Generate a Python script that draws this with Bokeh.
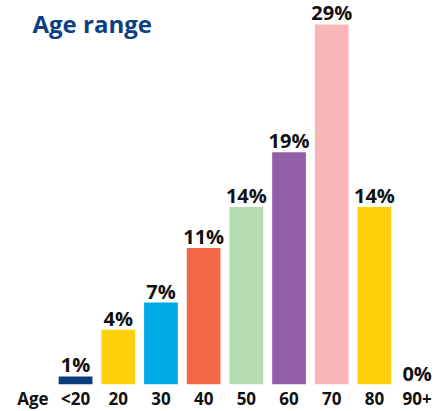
from bokeh.plotting import figure
from bokeh.models import FactorRange, Range1d, ColumnDataSource, Label, LabelSet
from bokeh.core.properties import value
from bokeh.embed import file_html
from bokeh.resources import INLINE

axis_label = "Age"
categories = ["<20", "20", "30", "40", "50", "60", "70", "80", "90+"]
values = [0.65, 4.4, 6.6, 11.0, 14.3, 18.7, 29.0, 14.3, 0.0]
labels = ["1%", "4%", "7%", "11%", "14%", "19%", "29%", "14%", "0%"]
colors = ["#0b3d7e", "#fdd10a", "#00aae4", "#f26849", "#b5dcb0",
          "#9360a8", "#f8b6b8", "#fdd10a", "#ffffff"]
title_text = "Age range"

src = ColumnDataSource(dict(cat=categories, val=values, lab=labels, col=colors))

p = figure(frame_width=427, frame_height=384, output_backend="svg", toolbar_location=None,
           x_range=FactorRange(factors=[axis_label] + categories, range_padding=0),
           y_range=Range1d(0, 30.93),
           min_border_left=11, min_border_right=0, min_border_top=0, min_border_bottom=0)

p.vbar(x="cat", top="val", width=0.79, color="col", source=src, line_width=0)
p.add_layout(LabelSet(x="cat", y="val", text="lab", source=src, text_align="center",
                      text_baseline="bottom", y_offset=-2, text_font=value("Open Sans"),
                      text_font_style="bold", text_font_size="20px",
                      text_color="#111111"))

p.add_layout(Label(x=21, y=361, x_units="screen", y_units="screen",
                   text=title_text, text_font="Open Sans", text_font_style="bold",
                   text_baseline="alphabetic",
                   text_font_size="24px", text_color="#0a3f84"))

p.yaxis.visible = False
p.xgrid.visible = False
p.ygrid.visible = False
p.outline_line_color = None
p.xaxis.axis_line_color = None
p.xaxis.major_tick_line_color = None
p.xaxis.minor_tick_line_color = None
p.xaxis.major_tick_out = 0
p.xaxis.major_tick_in = 0
p.xaxis.minor_tick_out = 0
p.xaxis.major_label_standoff = 2
p.xaxis.major_label_text_font = "Open Sans"
p.xaxis.major_label_text_font_style = "bold"
p.xaxis.major_label_text_font_size = "17px"
p.xaxis.major_label_text_color = "#111111"

open("out.html", "w").write(file_html(p, INLINE))
